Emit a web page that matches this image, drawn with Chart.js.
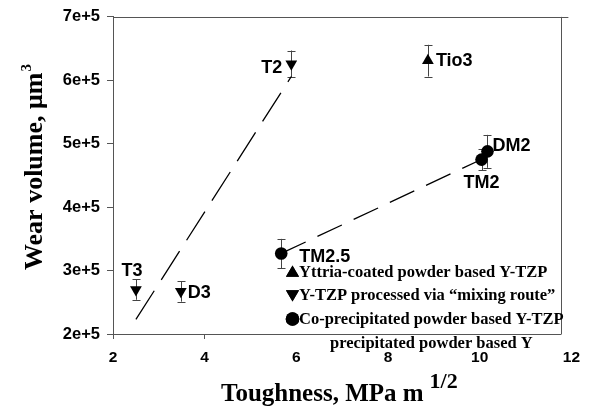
<!DOCTYPE html>
<html><head><meta charset="utf-8">
<script src="https://cdn.jsdelivr.net/npm/chart.js@4/dist/chart.umd.min.js"></script>
<style>html,body{margin:0;padding:0;background:#fff;}canvas{display:block}</style>
</head><body>
<canvas id="c" width="589" height="418"></canvas>
<script>
// ---- data ----
const seriesNames = ['Yttria-coated powder based Y-TZP', 'Y-TZP processed via \u201cmixing route\u201d', 'Co-precipitated powder based Y-TZP'];
const extraLegendText = 'precipitated powder based Y';

const coatedNames = ['Tio3'];
const coatedX = [8.87];
const coatedY = [631000];
const coatedErr = [25000];

const mixNames = ['T2', 'T3', 'D3'];
const mixX = [5.89, 2.5, 3.48];
const mixY = [626000, 270000, 267000];
const mixErr = [21000, 16000, 16000];

const coNames = ['DM2', 'TM2', 'TM2.5'];
const coX = [10.17, 10.04, 5.67];
const coY = [488000, 475000, 327000];
const coErr = [26000, 17000, 23000];

const trend1X = [2.5, 5.89];
const trend1Y = [223000, 606000];
const trend2X = [5.67, 10.0];
const trend2Y = [327000, 474000];

const xTickValues = [2, 4, 6, 8, 10, 12];
const yTickLabels = ['2e+5', '3e+5', '4e+5', '5e+5', '6e+5', '7e+5'];
const frameRightX = 11.78;

// ---- styles ----
const labelPlace = {
  'Tio3': {dx: 8, dy: 0, align: 'left'},
  'T2': {dx: -9, dy: 4, align: 'right'},
  'T3': {dx: -4, dy: -19, align: 'center'},
  'D3': {dx: 7, dy: 2, align: 'left'},
  'DM2': {dx: 5, dy: -5, align: 'left'},
  'TM2': {dx: -18, dy: 23, align: 'left'},
  'TM2.5': {dx: 18, dy: 4, align: 'left'}
};

const pts = (xs, ys) => xs.map((x, i) => ({x: x, y: ys[i]}));

const datasets = [
  {label: seriesNames[0], data: pts(coatedX, coatedY), names: coatedNames, err: coatedErr,
   pointStyle: 'triangle', rotation: 0, pointRadius: 6.8, backgroundColor: '#000', borderColor: '#000', borderWidth: 0, showLine: false},
  {label: seriesNames[1], data: pts(mixX, mixY), names: mixNames, err: mixErr,
   pointStyle: 'triangle', rotation: 180, pointRadius: 6.8, backgroundColor: '#000', borderColor: '#000', borderWidth: 0, showLine: false},
  {label: seriesNames[2], data: pts(coX, coY), names: coNames, err: coErr,
   pointStyle: 'circle', pointRadius: 6.3, backgroundColor: '#000', borderColor: '#000', borderWidth: 0, showLine: false},
  {label: 'trend1', data: pts(trend1X, trend1Y), showLine: true, pointRadius: 0, borderColor: '#000', borderWidth: 1.3, borderDash: [34, 13], fill: false},
  {label: 'trend2', data: pts(trend2X, trend2Y), showLine: true, pointRadius: 0, borderColor: '#000', borderWidth: 1.3, borderDash: [27, 13], fill: false}
];

const SANS = '"Liberation Sans", Arial, sans-serif';
const SERIF = '"Liberation Serif", "Times New Roman", serif';

const decor = {
  id: 'decor',
  beforeDatasetsDraw(chart) {
    const ctx = chart.ctx, xs = chart.scales.x, ys = chart.scales.y;
    ctx.save();
    ctx.strokeStyle = '#444';
    ctx.lineWidth = 1;
    chart.data.datasets.forEach(ds => {
      if (!ds.err) return;
      ds.data.forEach((p, i) => {
        const px = Math.round(xs.getPixelForValue(p.x)) + 0.5;
        const t = ys.getPixelForValue(p.y + ds.err[i]);
        const b = ys.getPixelForValue(p.y - ds.err[i]);
        ctx.beginPath();
        ctx.moveTo(px, t); ctx.lineTo(px, b);
        ctx.moveTo(px - 4, Math.round(t) + 0.5); ctx.lineTo(px + 4, Math.round(t) + 0.5);
        ctx.moveTo(px - 4, Math.round(b) + 0.5); ctx.lineTo(px + 4, Math.round(b) + 0.5);
        ctx.stroke();
      });
    });
    // frame
    const a = chart.chartArea;
    const rx = Math.round(xs.getPixelForValue(frameRightX)) + 0.5;
    ctx.strokeStyle = '#555';
    ctx.beginPath();
    ctx.moveTo(a.left, Math.round(a.top) + 0.5); ctx.lineTo(a.right - 3, Math.round(a.top) + 0.5);
    ctx.moveTo(rx, a.top); ctx.lineTo(rx, a.bottom);
    ctx.moveTo(a.left, Math.round(a.bottom) + 0.5); ctx.lineTo(rx, Math.round(a.bottom) + 0.5);
    ctx.stroke();
    ctx.restore();
  },
  afterDatasetsDraw(chart) {
    const ctx = chart.ctx, xs = chart.scales.x, ys = chart.scales.y;
    ctx.save();
    ctx.fillStyle = '#000';
    ctx.font = 'bold 18px ' + SANS;
    ctx.textBaseline = 'middle';
    chart.data.datasets.forEach(ds => {
      if (!ds.names) return;
      ds.data.forEach((p, i) => {
        const name = ds.names[i];
        const pl = labelPlace[name];
        ctx.textAlign = pl.align;
        ctx.fillText(name, xs.getPixelForValue(p.x) + pl.dx, ys.getPixelForValue(p.y) + pl.dy);
      });
    });
    // legend
    const lx = 292.5, tx = 299, rows = [272, 295, 319];
    ctx.font = 'bold 16.5px ' + SERIF;
    ctx.textAlign = 'left';
    for (let i = 0; i < 3; i++) {
      const ds = chart.data.datasets[i];
      const isTri = ds.pointStyle === 'triangle';
      Chart.helpers.drawPoint(ctx, {pointStyle: ds.pointStyle, rotation: ds.rotation || 0, radius: isTri ? 7.6 : 6.8, borderWidth: 0}, lx, rows[i] + (isTri ? (ds.rotation ? -1 : 1) : 0));
      ctx.fillStyle = '#000';
      ctx.fill();
      ctx.fillText(ds.label, tx, rows[i] + 1);
    }
    ctx.fillText(extraLegendText, 330, 344);
    // axis titles
    ctx.textBaseline = 'alphabetic';
    ctx.font = 'bold 25px ' + SERIF;
    const xt = 'Toughness, MPa m';
    ctx.fillText(xt, 221, 401);
    const w = ctx.measureText(xt).width;
    ctx.font = 'bold 22px ' + SERIF;
    ctx.fillText('1/2', 221 + w + 6, 388);
    ctx.translate(42, 270);
    ctx.rotate(-Math.PI / 2);
    ctx.font = 'bold 26px ' + SERIF;
    const yt = 'Wear volume, \u03bcm';
    ctx.fillText(yt, 0, 0);
    const w2 = ctx.measureText(yt).width;
    ctx.font = 'bold 15px ' + SERIF;
    ctx.fillText('3', w2 + 1, -11);
    ctx.restore();
  }
};

new Chart(document.getElementById('c'), {
  type: 'scatter',
  data: {datasets: datasets},
  options: {
    responsive: false,
    animation: false,
    devicePixelRatio: 1,
    layout: {padding: {top: 14, right: 16, left: 0, bottom: 0}},
    plugins: {legend: {display: false}, tooltip: {enabled: false}},
    scales: {
      x: {
        type: 'linear', min: 2, max: 12,
        afterBuildTicks: s => { s.ticks = xTickValues.map(v => ({value: v})); },
        ticks: {font: {family: SANS, size: 15.5, weight: 'bold'}, color: '#000', padding: 9, maxRotation: 0},
        grid: {drawOnChartArea: false, drawTicks: true, tickLength: 5,
               color: c => (c.tick && c.tick.value <= 4) ? '#555' : 'rgba(0,0,0,0)'},
        border: {display: false},
        afterFit: s => { s.height = 84; }
      },
      y: {
        type: 'linear', min: 200000, max: 700000,
        ticks: {stepSize: 100000, callback: (v, i) => yTickLabels[i],
                font: {family: SANS, size: 16.5, weight: 'bold'}, color: '#000', padding: 7},
        grid: {drawOnChartArea: false, drawTicks: true, tickLength: 6, color: '#555'},
        border: {display: true, color: '#555', width: 1},
        afterFit: s => { s.width = 113; }
      }
    }
  },
  plugins: [decor]
});
</script>
</body></html>
